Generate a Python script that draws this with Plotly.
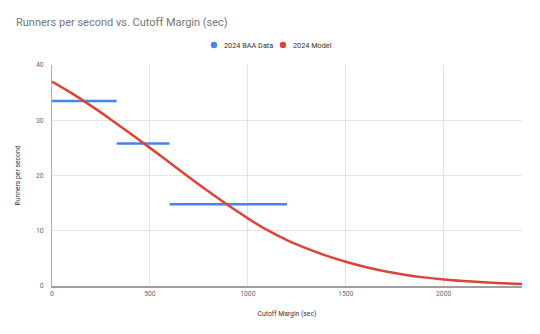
import plotly.graph_objects as go

# Observed 2024 BAA data: runners per second over cutoff-margin bins
bin_start = [0, 330, 600]
bin_end = [330, 600, 1200]
bin_rate = [33.5, 25.8, 14.8]

# 2024 model curve
model_x = [0, 100, 200, 300, 400, 500, 600, 700, 800, 900, 1000, 1100, 1200,
           1300, 1400, 1500, 1600, 1700, 1800, 1900, 2000, 2100, 2200, 2300, 2400]
model_y = [37.0, 34.9, 32.6, 30.15, 27.6, 25.0, 22.35, 19.7, 17.1, 14.6, 12.25, 10.1, 8.3,
           6.8, 5.5, 4.4, 3.45, 2.67, 2.05, 1.56, 1.19, 0.91, 0.69, 0.51, 0.35]

x_ticks = [0, 500, 1000, 1500, 2000]
y_ticks = [0, 10, 20, 30, 40]

series_names = ["2024 BAA Data", "2024 Model"]

BLUE = "#4285F4"
RED = "#DB4437"
GREY = "#757575"
SMALL = 6.8
W, H = 540, 334

seg_x, seg_y = [], []
for s, e, r in zip(bin_start, bin_end, bin_rate):
    seg_x += [s, e, None]
    seg_y += [r, r, None]

fig = go.Figure()
fig.add_trace(go.Scatter(x=seg_x, y=seg_y, mode="lines", name=series_names[0],
                         showlegend=False, line=dict(color=BLUE, width=2.5)))
fig.add_trace(go.Scatter(x=model_x, y=model_y, mode="lines", name=series_names[1],
                         showlegend=False,
                         line=dict(color=RED, width=2.5, shape="spline", smoothing=1)))

# compact legend: coloured dot followed by the series name
for name, color, dot_px in zip(series_names, [BLUE, RED], [214, 283]):
    r = 3.2
    fig.add_shape(type="circle", xref="paper", yref="paper",
                  x0=(dot_px - 52 - r) / 470, x1=(dot_px - 52 + r) / 470,
                  y0=(H - 48 - 45 - r) / 221, y1=(H - 48 - 45 + r) / 221,
                  fillcolor=color, line=dict(width=0))
    fig.add_annotation(text=name, xref="paper", yref="paper",
                       x=(dot_px + 8 - 52) / 470, y=(H - 48 - 45) / 221,
                       xanchor="left", yanchor="middle", showarrow=False,
                       font=dict(size=7.3, color="#333333"))

fig.update_layout(
    width=W, height=H,
    margin=dict(l=52, r=18, t=65, b=48, autoexpand=False),
    paper_bgcolor="white", plot_bgcolor="white",
    showlegend=False,
    font=dict(family="Roboto, Arial, sans-serif", size=SMALL, color="#444444"),
    title=dict(text="Runners per second vs. Cutoff Margin (sec)",
               x=16 / W, xanchor="left", y=1 - 22 / H, yanchor="middle",
               font=dict(size=11, color=GREY)),
    xaxis=dict(range=[0, 2400], tickvals=x_ticks, showgrid=True,
               gridcolor="#e4e4e4", gridwidth=1, zeroline=False,
               showline=True, linecolor="#9e9e9e", linewidth=1.5,
               ticks="", tickfont=dict(size=SMALL, color="#666666"),
               title=dict(text="Cutoff Margin (sec)", font=dict(size=SMALL, color="#333333"),
                          standoff=14)),
    yaxis=dict(range=[0, 40], tickvals=y_ticks, showgrid=True,
               gridcolor="#e4e4e4", gridwidth=1, zeroline=False,
               showline=True, linecolor="#b0b0b0", linewidth=1,
               ticks="", ticklabelstandoff=6, tickfont=dict(size=SMALL, color="#666666"),
               title=dict(text="Runners per second", font=dict(size=SMALL, color="#333333"),
                          standoff=14)),
)

fig.write_html("out.html")
